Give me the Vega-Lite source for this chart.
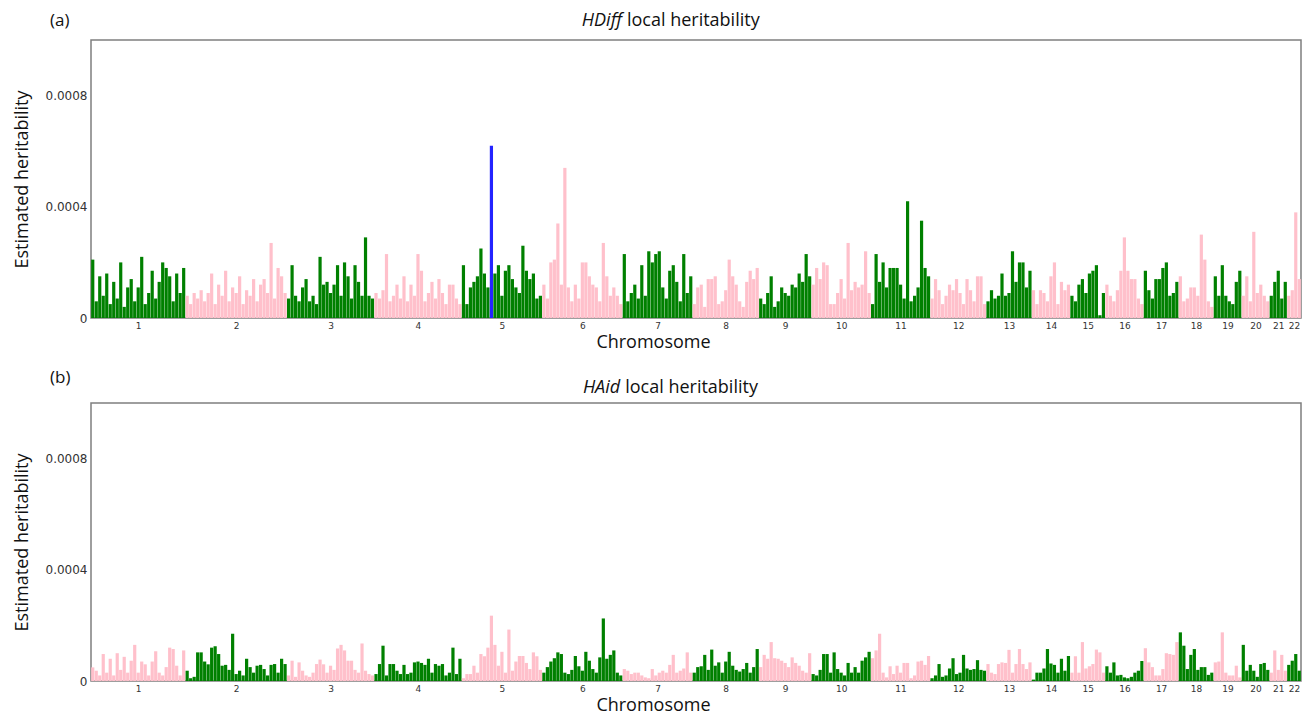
{
"$schema": "https://vega.github.io/schema/vega-lite/v6.json",
"background": "white",
"padding": {"left": 12, "top": 10, "right": 8, "bottom": 4},
"spacing": 85,
"bounds": "flush",
"config": {
 "view": {"stroke": "#7f7f7f", "strokeWidth": 1.5},
 "axis": {"grid": false, "ticks": false, "domain": false, "labelFont": "DejaVu Sans", "labelColor": "#333333", "titleFont": "Open Sans", "titleFontWeight": "normal", "titleColor": "#111111", "titleFontSize": 18},
 "text": {"font": "Open Sans", "color": "#111111"}
},
"data": {"values": [
{"i":0,"c":1,"a":2.1e-4,"b":4.9e-5},{"i":1,"c":1,"a":6e-5,"b":3.7e-5},{"i":2,"c":1,"a":1.5e-4,"b":2e-5},{"i":3,"c":1,"a":8e-5,"b":9.7e-5},{"i":4,"c":1,"a":1.6e-4,"b":3e-5},{"i":5,"c":1,"a":5e-5,"b":8e-5},{"i":6,"c":1,"a":1.3e-4,"b":2e-5},{"i":7,"c":1,"a":7e-5,"b":1e-4},{"i":8,"c":1,"a":2e-4,"b":4e-5},{"i":9,"c":1,"a":4e-5,"b":8.7e-5},{"i":10,"c":1,"a":1.1e-4,"b":3e-5},{"i":11,"c":1,"a":1.4e-4,"b":7.3e-5},{"i":12,"c":1,"a":6e-5,"b":1.3e-4},{"i":13,"c":1,"a":1.1e-4,"b":3e-5},{"i":14,"c":1,"a":2.2e-4,"b":7e-5},{"i":15,"c":1,"a":5e-5,"b":6e-5},{"i":16,"c":1,"a":9e-5,"b":2e-5},{"i":17,"c":1,"a":1.7e-4,"b":7e-5},{"i":18,"c":1,"a":7e-5,"b":1.07e-4},{"i":19,"c":1,"a":1.3e-4,"b":3e-5},{"i":20,"c":1,"a":2e-4,"b":2e-5},{"i":21,"c":1,"a":1.8e-4,"b":5e-5},{"i":22,"c":1,"a":1.5e-4,"b":1.2e-4},{"i":23,"c":1,"a":6e-5,"b":1.15e-4},{"i":24,"c":1,"a":1.6e-4,"b":5.5e-5},{"i":25,"c":1,"a":9e-5,"b":2e-5},{"i":26,"c":1,"a":1.8e-4,"b":1.1e-4},
{"i":27,"c":2,"a":8e-5,"b":3.7e-5},{"i":28,"c":2,"a":5e-5,"b":1e-5},{"i":29,"c":2,"a":9e-5,"b":1.5e-5},{"i":30,"c":2,"a":7e-5,"b":1.03e-4},{"i":31,"c":2,"a":1e-4,"b":1.03e-4},{"i":32,"c":2,"a":6e-5,"b":7e-5},{"i":33,"c":2,"a":9e-5,"b":6e-5},{"i":34,"c":2,"a":1.6e-4,"b":1.2e-4},{"i":35,"c":2,"a":5e-5,"b":1.25e-4},{"i":36,"c":2,"a":1.2e-4,"b":9.7e-5},{"i":37,"c":2,"a":8e-5,"b":5.5e-5},{"i":38,"c":2,"a":1.7e-4,"b":5.8e-5},{"i":39,"c":2,"a":6e-5,"b":4e-5},{"i":40,"c":2,"a":1.1e-4,"b":1.7e-4},{"i":41,"c":2,"a":9e-5,"b":2.5e-5},{"i":42,"c":2,"a":1.5e-4,"b":3.7e-5},{"i":43,"c":2,"a":5e-5,"b":2e-5},{"i":44,"c":2,"a":1e-4,"b":8e-5},{"i":45,"c":2,"a":8e-5,"b":5e-5},{"i":46,"c":2,"a":1.4e-4,"b":3e-5},{"i":47,"c":2,"a":6e-5,"b":5.5e-5},{"i":48,"c":2,"a":1.2e-4,"b":5.8e-5},{"i":49,"c":2,"a":1.4e-4,"b":4.3e-5},{"i":50,"c":2,"a":9e-5,"b":2e-5},{"i":51,"c":2,"a":2.7e-4,"b":5.8e-5},{"i":52,"c":2,"a":7e-5,"b":6.1e-5},{"i":53,"c":2,"a":1.8e-4,"b":3e-5},{"i":54,"c":2,"a":1.5e-4,"b":8e-5},{"i":55,"c":2,"a":9e-5,"b":6.1e-5},
{"i":56,"c":3,"a":7e-5,"b":2e-5},{"i":57,"c":3,"a":1.9e-4,"b":7.3e-5},{"i":58,"c":3,"a":8e-5,"b":1.5e-5},{"i":59,"c":3,"a":6e-5,"b":6.7e-5},{"i":60,"c":3,"a":1.1e-4,"b":3.7e-5},{"i":61,"c":3,"a":1.4e-4,"b":2e-5},{"i":62,"c":3,"a":6e-5,"b":1.5e-5},{"i":63,"c":3,"a":8e-5,"b":3e-5},{"i":64,"c":3,"a":5e-5,"b":6.1e-5},{"i":65,"c":3,"a":2.2e-4,"b":7.7e-5},{"i":66,"c":3,"a":1.2e-4,"b":6e-5},{"i":67,"c":3,"a":1.3e-4,"b":3e-5},{"i":68,"c":3,"a":9e-5,"b":5.5e-5},{"i":69,"c":3,"a":1.2e-4,"b":4e-5},{"i":70,"c":3,"a":1.9e-4,"b":1.17e-4},{"i":71,"c":3,"a":8e-5,"b":1.3e-4},{"i":72,"c":3,"a":2e-4,"b":1.1e-4},{"i":73,"c":3,"a":1.5e-4,"b":7.3e-5},{"i":74,"c":3,"a":7e-5,"b":7.3e-5},{"i":75,"c":3,"a":1.9e-4,"b":4e-5},{"i":76,"c":3,"a":1.3e-4,"b":3e-5},{"i":77,"c":3,"a":8e-5,"b":1.35e-4},{"i":78,"c":3,"a":2.9e-4,"b":3.7e-5},{"i":79,"c":3,"a":8e-5,"b":2.5e-5},{"i":80,"c":3,"a":7e-5,"b":2e-5},
{"i":81,"c":4,"a":9e-5,"b":2.5e-5},{"i":82,"c":4,"a":7e-5,"b":6.1e-5},{"i":83,"c":4,"a":1e-4,"b":1.27e-4},{"i":84,"c":4,"a":2.3e-4,"b":2e-5},{"i":85,"c":4,"a":6e-5,"b":6.1e-5},{"i":86,"c":4,"a":8e-5,"b":6.1e-5},{"i":87,"c":4,"a":1.2e-4,"b":3.7e-5},{"i":88,"c":4,"a":7e-5,"b":2.5e-5},{"i":89,"c":4,"a":1.5e-4,"b":5.8e-5},{"i":90,"c":4,"a":6e-5,"b":2.5e-5},{"i":91,"c":4,"a":1.2e-4,"b":3e-5},{"i":92,"c":4,"a":8e-5,"b":6.7e-5},{"i":93,"c":4,"a":2.3e-4,"b":7e-5},{"i":94,"c":4,"a":1.7e-4,"b":6.5e-5},{"i":95,"c":4,"a":6e-5,"b":5.8e-5},{"i":96,"c":4,"a":9e-5,"b":8e-5},{"i":97,"c":4,"a":1.3e-4,"b":3e-5},{"i":98,"c":4,"a":7e-5,"b":6.1e-5},{"i":99,"c":4,"a":1.4e-4,"b":5.5e-5},{"i":100,"c":4,"a":9e-5,"b":6.1e-5},{"i":101,"c":4,"a":5e-5,"b":2e-5},{"i":102,"c":4,"a":1.2e-4,"b":3e-5},{"i":103,"c":4,"a":1.2e-4,"b":1.2e-4},{"i":104,"c":4,"a":7e-5,"b":2.5e-5},{"i":105,"c":4,"a":5e-5,"b":8e-5},
{"i":106,"c":5,"a":1.9e-4,"b":1e-5},{"i":107,"c":5,"a":5e-5,"b":2.5e-5},{"i":108,"c":5,"a":1.1e-4,"b":2.5e-5},{"i":109,"c":5,"a":1.3e-4,"b":5.5e-5},{"i":110,"c":5,"a":1.5e-4,"b":3e-5},{"i":111,"c":5,"a":2.5e-4,"b":9.7e-5},{"i":112,"c":5,"a":1.6e-4,"b":8.9e-5},{"i":113,"c":5,"a":1.1e-4,"b":1.2e-4},{"i":114,"c":5,"a":6.2e-4,"b":2.35e-4,"s":1},{"i":115,"c":5,"a":1.6e-4,"b":1.3e-4},{"i":116,"c":5,"a":1.9e-4,"b":5.5e-5},{"i":117,"c":5,"a":8e-5,"b":1.05e-4},{"i":118,"c":5,"a":1.7e-4,"b":3e-5},{"i":119,"c":5,"a":1.9e-4,"b":1.85e-4},{"i":120,"c":5,"a":1.4e-4,"b":3.7e-5},{"i":121,"c":5,"a":1.1e-4,"b":7e-5},{"i":122,"c":5,"a":9e-5,"b":9e-5},{"i":123,"c":5,"a":2.6e-4,"b":9e-5},{"i":124,"c":5,"a":1.7e-4,"b":6.5e-5},{"i":125,"c":5,"a":1.4e-4,"b":4.3e-5},{"i":126,"c":5,"a":1.6e-4,"b":1.03e-4},{"i":127,"c":5,"a":7e-5,"b":8.9e-5},{"i":128,"c":5,"a":8e-5,"b":4e-5},
{"i":129,"c":6,"a":1.2e-4,"b":3e-5},{"i":130,"c":6,"a":7e-5,"b":5e-5},{"i":131,"c":6,"a":2e-4,"b":7e-5},{"i":132,"c":6,"a":2.1e-4,"b":8.2e-5},{"i":133,"c":6,"a":3.4e-4,"b":1.03e-4},{"i":134,"c":6,"a":1.2e-4,"b":9.7e-5},{"i":135,"c":6,"a":5.4e-4,"b":3e-5},{"i":136,"c":6,"a":1.1e-4,"b":2.5e-5},{"i":137,"c":6,"a":6e-5,"b":4e-5},{"i":138,"c":6,"a":1.2e-4,"b":9e-5},{"i":139,"c":6,"a":7e-5,"b":5.3e-5},{"i":140,"c":6,"a":2e-4,"b":3.7e-5},{"i":141,"c":6,"a":2e-4,"b":1.05e-4},{"i":142,"c":6,"a":1.5e-4,"b":7.3e-5},{"i":143,"c":6,"a":1.2e-4,"b":4.3e-5},{"i":144,"c":6,"a":1.1e-4,"b":3e-5},{"i":145,"c":6,"a":6e-5,"b":8.5e-5},{"i":146,"c":6,"a":2.7e-4,"b":2.25e-4},{"i":147,"c":6,"a":1.5e-4,"b":8e-5},{"i":148,"c":6,"a":8e-5,"b":9.4e-5},{"i":149,"c":6,"a":1.1e-4,"b":1.1e-4},{"i":150,"c":6,"a":8e-5,"b":3e-5},{"i":151,"c":6,"a":5e-5,"b":2e-5},
{"i":152,"c":7,"a":2.3e-4,"b":4.3e-5},{"i":153,"c":7,"a":6e-5,"b":3.7e-5},{"i":154,"c":7,"a":9e-5,"b":2.5e-5},{"i":155,"c":7,"a":1.2e-4,"b":3e-5},{"i":156,"c":7,"a":7e-5,"b":3e-5},{"i":157,"c":7,"a":1.9e-4,"b":2e-5},{"i":158,"c":7,"a":8e-5,"b":1.3e-5},{"i":159,"c":7,"a":2.4e-4,"b":1e-5},{"i":160,"c":7,"a":2e-4,"b":4.3e-5},{"i":161,"c":7,"a":2.3e-4,"b":2e-5},{"i":162,"c":7,"a":2.4e-4,"b":3e-5},{"i":163,"c":7,"a":1.1e-4,"b":3.7e-5},{"i":164,"c":7,"a":7e-5,"b":3e-5},{"i":165,"c":7,"a":1.7e-4,"b":5.8e-5},{"i":166,"c":7,"a":1.9e-4,"b":9.4e-5},{"i":167,"c":7,"a":1.3e-4,"b":3e-5},{"i":168,"c":7,"a":6e-5,"b":3.7e-5},{"i":169,"c":7,"a":2.3e-4,"b":4.5e-5},{"i":170,"c":7,"a":9e-5,"b":1.03e-4},{"i":171,"c":7,"a":1.5e-4,"b":3e-5},
{"i":172,"c":8,"a":5e-5,"b":3e-5},{"i":173,"c":8,"a":1.1e-4,"b":5e-5},{"i":174,"c":8,"a":1.2e-4,"b":5.3e-5},{"i":175,"c":8,"a":4e-5,"b":9.4e-5},{"i":176,"c":8,"a":1.4e-4,"b":4e-5},{"i":177,"c":8,"a":1.4e-4,"b":1.13e-4},{"i":178,"c":8,"a":1.5e-4,"b":5.5e-5},{"i":179,"c":8,"a":5e-5,"b":6.7e-5},{"i":180,"c":8,"a":6e-5,"b":3e-5},{"i":181,"c":8,"a":1e-4,"b":7e-5},{"i":182,"c":8,"a":2.1e-4,"b":1.05e-4},{"i":183,"c":8,"a":1.5e-4,"b":5.5e-5},{"i":184,"c":8,"a":1.2e-4,"b":4e-5},{"i":185,"c":8,"a":6e-5,"b":3.4e-5},{"i":186,"c":8,"a":4e-5,"b":4.3e-5},{"i":187,"c":8,"a":1.3e-4,"b":6.5e-5},{"i":188,"c":8,"a":1.7e-4,"b":3e-5},{"i":189,"c":8,"a":1.4e-4,"b":5e-5},{"i":190,"c":8,"a":1.8e-4,"b":1.15e-4},
{"i":191,"c":9,"a":7e-5,"b":5e-5},{"i":192,"c":9,"a":5e-5,"b":9.4e-5},{"i":193,"c":9,"a":9e-5,"b":8e-5},{"i":194,"c":9,"a":1.5e-4,"b":1.4e-4},{"i":195,"c":9,"a":4e-5,"b":8.2e-5},{"i":196,"c":9,"a":6e-5,"b":8e-5},{"i":197,"c":9,"a":1.1e-4,"b":7.3e-5},{"i":198,"c":9,"a":9e-5,"b":6.5e-5},{"i":199,"c":9,"a":8e-5,"b":5e-5},{"i":200,"c":9,"a":1.2e-4,"b":8.5e-5},{"i":201,"c":9,"a":1.1e-4,"b":6.5e-5},{"i":202,"c":9,"a":1.6e-4,"b":5.5e-5},{"i":203,"c":9,"a":1.3e-4,"b":3.7e-5},{"i":204,"c":9,"a":2.3e-4,"b":3e-5},{"i":205,"c":9,"a":1.5e-4,"b":1e-4},
{"i":206,"c":10,"a":1.2e-4,"b":2.5e-5},{"i":207,"c":10,"a":1.8e-4,"b":2e-5},{"i":208,"c":10,"a":1.4e-4,"b":4e-5},{"i":209,"c":10,"a":2e-4,"b":9.7e-5},{"i":210,"c":10,"a":1.9e-4,"b":9.7e-5},{"i":211,"c":10,"a":5e-5,"b":3e-5},{"i":212,"c":10,"a":5e-5,"b":1.03e-4},{"i":213,"c":10,"a":9e-5,"b":4.3e-5},{"i":214,"c":10,"a":1.4e-4,"b":3e-5},{"i":215,"c":10,"a":7e-5,"b":2e-5},{"i":216,"c":10,"a":2.7e-4,"b":6.5e-5},{"i":217,"c":10,"a":1e-4,"b":3e-5},{"i":218,"c":10,"a":1.3e-4,"b":5e-5},{"i":219,"c":10,"a":1.1e-4,"b":3e-5},{"i":220,"c":10,"a":1.2e-4,"b":7.3e-5},{"i":221,"c":10,"a":2.4e-4,"b":8.5e-5},{"i":222,"c":10,"a":9e-5,"b":1.05e-4},
{"i":223,"c":11,"a":5e-5,"b":8.2e-5},{"i":224,"c":11,"a":2.3e-4,"b":1.1e-4},{"i":225,"c":11,"a":1.3e-4,"b":1.7e-4},{"i":226,"c":11,"a":2e-4,"b":3e-5},{"i":227,"c":11,"a":1.1e-4,"b":1.3e-5},{"i":228,"c":11,"a":1.8e-4,"b":5.3e-5},{"i":229,"c":11,"a":1.8e-4,"b":2.5e-5},{"i":230,"c":11,"a":1.8e-4,"b":5.5e-5},{"i":231,"c":11,"a":1.2e-4,"b":3e-5},{"i":232,"c":11,"a":7e-5,"b":6.5e-5},{"i":233,"c":11,"a":4.2e-4,"b":6.5e-5},{"i":234,"c":11,"a":6e-5,"b":1e-5},{"i":235,"c":11,"a":8e-5,"b":2e-5},{"i":236,"c":11,"a":1.1e-4,"b":7e-5},{"i":237,"c":11,"a":3.5e-4,"b":7.3e-5},{"i":238,"c":11,"a":1.8e-4,"b":5.8e-5},{"i":239,"c":11,"a":1.5e-4,"b":9e-5},
{"i":240,"c":12,"a":7e-5,"b":1e-5},{"i":241,"c":12,"a":1.4e-4,"b":2e-5},{"i":242,"c":12,"a":1e-4,"b":6.1e-5},{"i":243,"c":12,"a":5e-5,"b":1.5e-5},{"i":244,"c":12,"a":8e-5,"b":2e-5},{"i":245,"c":12,"a":1.2e-4,"b":4.5e-5},{"i":246,"c":12,"a":1e-4,"b":8.2e-5},{"i":247,"c":12,"a":1.4e-4,"b":2.5e-5},{"i":248,"c":12,"a":9e-5,"b":3e-5},{"i":249,"c":12,"a":5e-5,"b":9.4e-5},{"i":250,"c":12,"a":1.4e-4,"b":4.5e-5},{"i":251,"c":12,"a":1e-4,"b":4e-5},{"i":252,"c":12,"a":6e-5,"b":4.3e-5},{"i":253,"c":12,"a":1.5e-4,"b":7.5e-5},{"i":254,"c":12,"a":1.5e-4,"b":4e-5},{"i":255,"c":12,"a":5e-5,"b":3.7e-5},
{"i":256,"c":13,"a":6e-5,"b":6.1e-5},{"i":257,"c":13,"a":1e-4,"b":3e-5},{"i":258,"c":13,"a":7e-5,"b":2.5e-5},{"i":259,"c":13,"a":8e-5,"b":6.1e-5},{"i":260,"c":13,"a":1.6e-4,"b":6.7e-5},{"i":261,"c":13,"a":8e-5,"b":6.5e-5},{"i":262,"c":13,"a":9e-5,"b":1.12e-4},{"i":263,"c":13,"a":2.4e-4,"b":3e-5},{"i":264,"c":13,"a":1.3e-4,"b":6.1e-5},{"i":265,"c":13,"a":2e-4,"b":1.15e-4},{"i":266,"c":13,"a":2e-4,"b":6.1e-5},{"i":267,"c":13,"a":1.1e-4,"b":4.3e-5},{"i":268,"c":13,"a":1.7e-4,"b":6.7e-5},
{"i":269,"c":14,"a":1e-4,"b":5e-6},{"i":270,"c":14,"a":5e-5,"b":3e-5},{"i":271,"c":14,"a":1e-4,"b":3e-5},{"i":272,"c":14,"a":9e-5,"b":4.5e-5},{"i":273,"c":14,"a":6e-5,"b":1.15e-4},{"i":274,"c":14,"a":1.5e-4,"b":6.3e-5},{"i":275,"c":14,"a":2e-4,"b":5.8e-5},{"i":276,"c":14,"a":5e-5,"b":3e-5},{"i":277,"c":14,"a":1.3e-4,"b":8e-5},{"i":278,"c":14,"a":1e-4,"b":3.7e-5},{"i":279,"c":14,"a":1.2e-4,"b":9e-5},
{"i":280,"c":15,"a":8e-5,"b":3e-5},{"i":281,"c":15,"a":6e-5,"b":8.9e-5},{"i":282,"c":15,"a":1.2e-4,"b":3e-5},{"i":283,"c":15,"a":1.4e-4,"b":1.4e-4},{"i":284,"c":15,"a":9e-5,"b":4.5e-5},{"i":285,"c":15,"a":1.6e-4,"b":5.3e-5},{"i":286,"c":15,"a":1.7e-4,"b":6.1e-5},{"i":287,"c":15,"a":1.9e-4,"b":1.13e-4},{"i":288,"c":15,"a":1e-5,"b":1.03e-4},{"i":289,"c":15,"a":9e-5,"b":3e-5},
{"i":290,"c":16,"a":1.2e-4,"b":5.3e-5},{"i":291,"c":16,"a":8e-5,"b":3e-5},{"i":292,"c":16,"a":6e-5,"b":6.7e-5},{"i":293,"c":16,"a":1e-4,"b":2e-5},{"i":294,"c":16,"a":1.7e-4,"b":2.2e-5},{"i":295,"c":16,"a":2.9e-4,"b":1.3e-5},{"i":296,"c":16,"a":1.7e-4,"b":1e-5},{"i":297,"c":16,"a":1.4e-4,"b":1.5e-5},{"i":298,"c":16,"a":1.4e-4,"b":3e-5},{"i":299,"c":16,"a":7e-5,"b":3.7e-5},{"i":300,"c":16,"a":5e-5,"b":7.2e-5},
{"i":301,"c":17,"a":1.7e-4,"b":1.18e-4},{"i":302,"c":17,"a":1e-4,"b":6.7e-5},{"i":303,"c":17,"a":7e-5,"b":5e-5},{"i":304,"c":17,"a":1.4e-4,"b":2e-5},{"i":305,"c":17,"a":1.4e-4,"b":2e-5},{"i":306,"c":17,"a":1.8e-4,"b":4.3e-5},{"i":307,"c":17,"a":2e-4,"b":1e-4},{"i":308,"c":17,"a":8e-5,"b":9.7e-5},{"i":309,"c":17,"a":9e-5,"b":9.4e-5},{"i":310,"c":17,"a":1.3e-4,"b":1.4e-4},
{"i":311,"c":18,"a":1.5e-4,"b":1.75e-4},{"i":312,"c":18,"a":6e-5,"b":1.27e-4},{"i":313,"c":18,"a":7e-5,"b":4.3e-5},{"i":314,"c":18,"a":1.1e-4,"b":9.4e-5},{"i":315,"c":18,"a":1.1e-4,"b":1.15e-4},{"i":316,"c":18,"a":8e-5,"b":4e-5},{"i":317,"c":18,"a":3e-4,"b":5e-5},{"i":318,"c":18,"a":2.1e-4,"b":5e-5},{"i":319,"c":18,"a":6e-5,"b":2.2e-5},{"i":320,"c":18,"a":4e-5,"b":3e-5},
{"i":321,"c":19,"a":1.5e-4,"b":6.7e-5},{"i":322,"c":19,"a":8e-5,"b":7e-5},{"i":323,"c":19,"a":1.9e-4,"b":1.75e-4},{"i":324,"c":19,"a":8e-5,"b":3e-5},{"i":325,"c":19,"a":6e-5,"b":2e-5},{"i":326,"c":19,"a":5e-5,"b":2e-5},{"i":327,"c":19,"a":1.3e-4,"b":5.5e-5},{"i":328,"c":19,"a":1.7e-4,"b":1.3e-5},
{"i":329,"c":20,"a":8e-5,"b":1.3e-4},{"i":330,"c":20,"a":1.5e-4,"b":3.7e-5},{"i":331,"c":20,"a":6e-5,"b":5.8e-5},{"i":332,"c":20,"a":3.1e-4,"b":3.7e-5},{"i":333,"c":20,"a":9e-5,"b":1.5e-5},{"i":334,"c":20,"a":1.2e-4,"b":6.1e-5},{"i":335,"c":20,"a":8e-5,"b":6.5e-5},{"i":336,"c":20,"a":6e-5,"b":4e-5},
{"i":337,"c":21,"a":8e-5,"b":3e-5},{"i":338,"c":21,"a":1.3e-4,"b":1.1e-4},{"i":339,"c":21,"a":1.7e-4,"b":4e-5},{"i":340,"c":21,"a":7e-5,"b":9.4e-5},{"i":341,"c":21,"a":1.3e-4,"b":3.7e-5},
{"i":342,"c":22,"a":8e-5,"b":5.8e-5},{"i":343,"c":22,"a":1e-4,"b":7.3e-5},{"i":344,"c":22,"a":3.8e-4,"b":9.7e-5},{"i":345,"c":22,"a":1.4e-4,"b":3.7e-5}
]},
"vconcat": [
 {
  "width": 1210, "height": 278,
  "layer": [
   {
    "mark": {"type": "rule", "strokeWidth": 3.2},
    "encoding": {
     "x": {"field": "i", "type": "quantitative", "scale": {"domain": [-0.5, 345.5], "nice": false, "zero": false},
      "axis": {"title": "Chromosome", "titleX": 562, "titlePadding": 3, "values": [13,41,68,93,117,140,161.5,181,198,214,231,247.5,262,274,284.5,295,305.5,315.5,324.5,332.5,339,343.5],
       "labelExpr": "indexof([13,41,68,93,117,140,161.5,181,198,214,231,247.5,262,274,284.5,295,305.5,315.5,324.5,332.5,339,343.5], datum.value) + 1",
       "labelFontSize": 9, "labelPadding": 3, "labelAngle": 0, "labelOverlap": false, "labelFlush": false}},
     "y": {"field": "a", "type": "quantitative", "scale": {"domain": [0, 0.001], "nice": false},
      "axis": {"title": "Estimated heritability", "values": [0, 0.0004, 0.0008], "format": ".4~f", "labelFontSize": 12, "labelPadding": 4, "titlePadding": 14}},
     "y2": {"datum": 0},
     "color": {"condition": [{"test": "datum.s == 1", "value": "#2424ff"}, {"test": "datum.c % 2 == 1", "value": "#008000"}], "value": "#ffc0cb"}
    }
   },
   {"data": {"values": [{}]}, "mark": {"type": "text", "text": "(a)", "align": "left", "baseline": "middle", "fontSize": 17},
    "encoding": {"x": {"datum": -12.2}, "y": {"datum": 0.00107}}},
   {"data": {"values": [{}]}, "mark": {"type": "text", "text": "HDiff", "align": "right", "baseline": "middle", "fontSize": 18, "fontStyle": "italic", "dx": -1},
    "encoding": {"x": {"datum": 151.6}, "y": {"datum": 0.001068}}},
   {"data": {"values": [{}]}, "mark": {"type": "text", "text": "local heritability", "align": "left", "baseline": "middle", "fontSize": 18, "dx": 4},
    "encoding": {"x": {"datum": 151.6}, "y": {"datum": 0.001068}}}
  ]
 },
 {
  "width": 1210, "height": 278,
  "layer": [
   {
    "mark": {"type": "rule", "strokeWidth": 3.2},
    "encoding": {
     "x": {"field": "i", "type": "quantitative", "scale": {"domain": [-0.5, 345.5], "nice": false, "zero": false},
      "axis": {"title": "Chromosome", "titleX": 562, "titlePadding": 3, "values": [13,41,68,93,117,140,161.5,181,198,214,231,247.5,262,274,284.5,295,305.5,315.5,324.5,332.5,339,343.5],
       "labelExpr": "indexof([13,41,68,93,117,140,161.5,181,198,214,231,247.5,262,274,284.5,295,305.5,315.5,324.5,332.5,339,343.5], datum.value) + 1",
       "labelFontSize": 9, "labelPadding": 3, "labelAngle": 0, "labelOverlap": false, "labelFlush": false}},
     "y": {"field": "b", "type": "quantitative", "scale": {"domain": [0, 0.001], "nice": false},
      "axis": {"title": "Estimated heritability", "values": [0, 0.0004, 0.0008], "format": ".4~f", "labelFontSize": 12, "labelPadding": 4, "titlePadding": 14}},
     "y2": {"datum": 0},
     "color": {"condition": {"test": "datum.c % 2 == 0", "value": "#008000"}, "value": "#ffc0cb"}
    }
   },
   {"data": {"values": [{}]}, "mark": {"type": "text", "text": "(b)", "align": "left", "baseline": "middle", "fontSize": 17},
    "encoding": {"x": {"datum": -12.2}, "y": {"datum": 0.00109}}},
   {"data": {"values": [{}]}, "mark": {"type": "text", "text": "HAid", "align": "right", "baseline": "middle", "fontSize": 18, "fontStyle": "italic", "dx": -1},
    "encoding": {"x": {"datum": 151.1}, "y": {"datum": 0.001054}}},
   {"data": {"values": [{}]}, "mark": {"type": "text", "text": "local heritability", "align": "left", "baseline": "middle", "fontSize": 18, "dx": 4},
    "encoding": {"x": {"datum": 151.1}, "y": {"datum": 0.001054}}}
  ]
 }
]
}
